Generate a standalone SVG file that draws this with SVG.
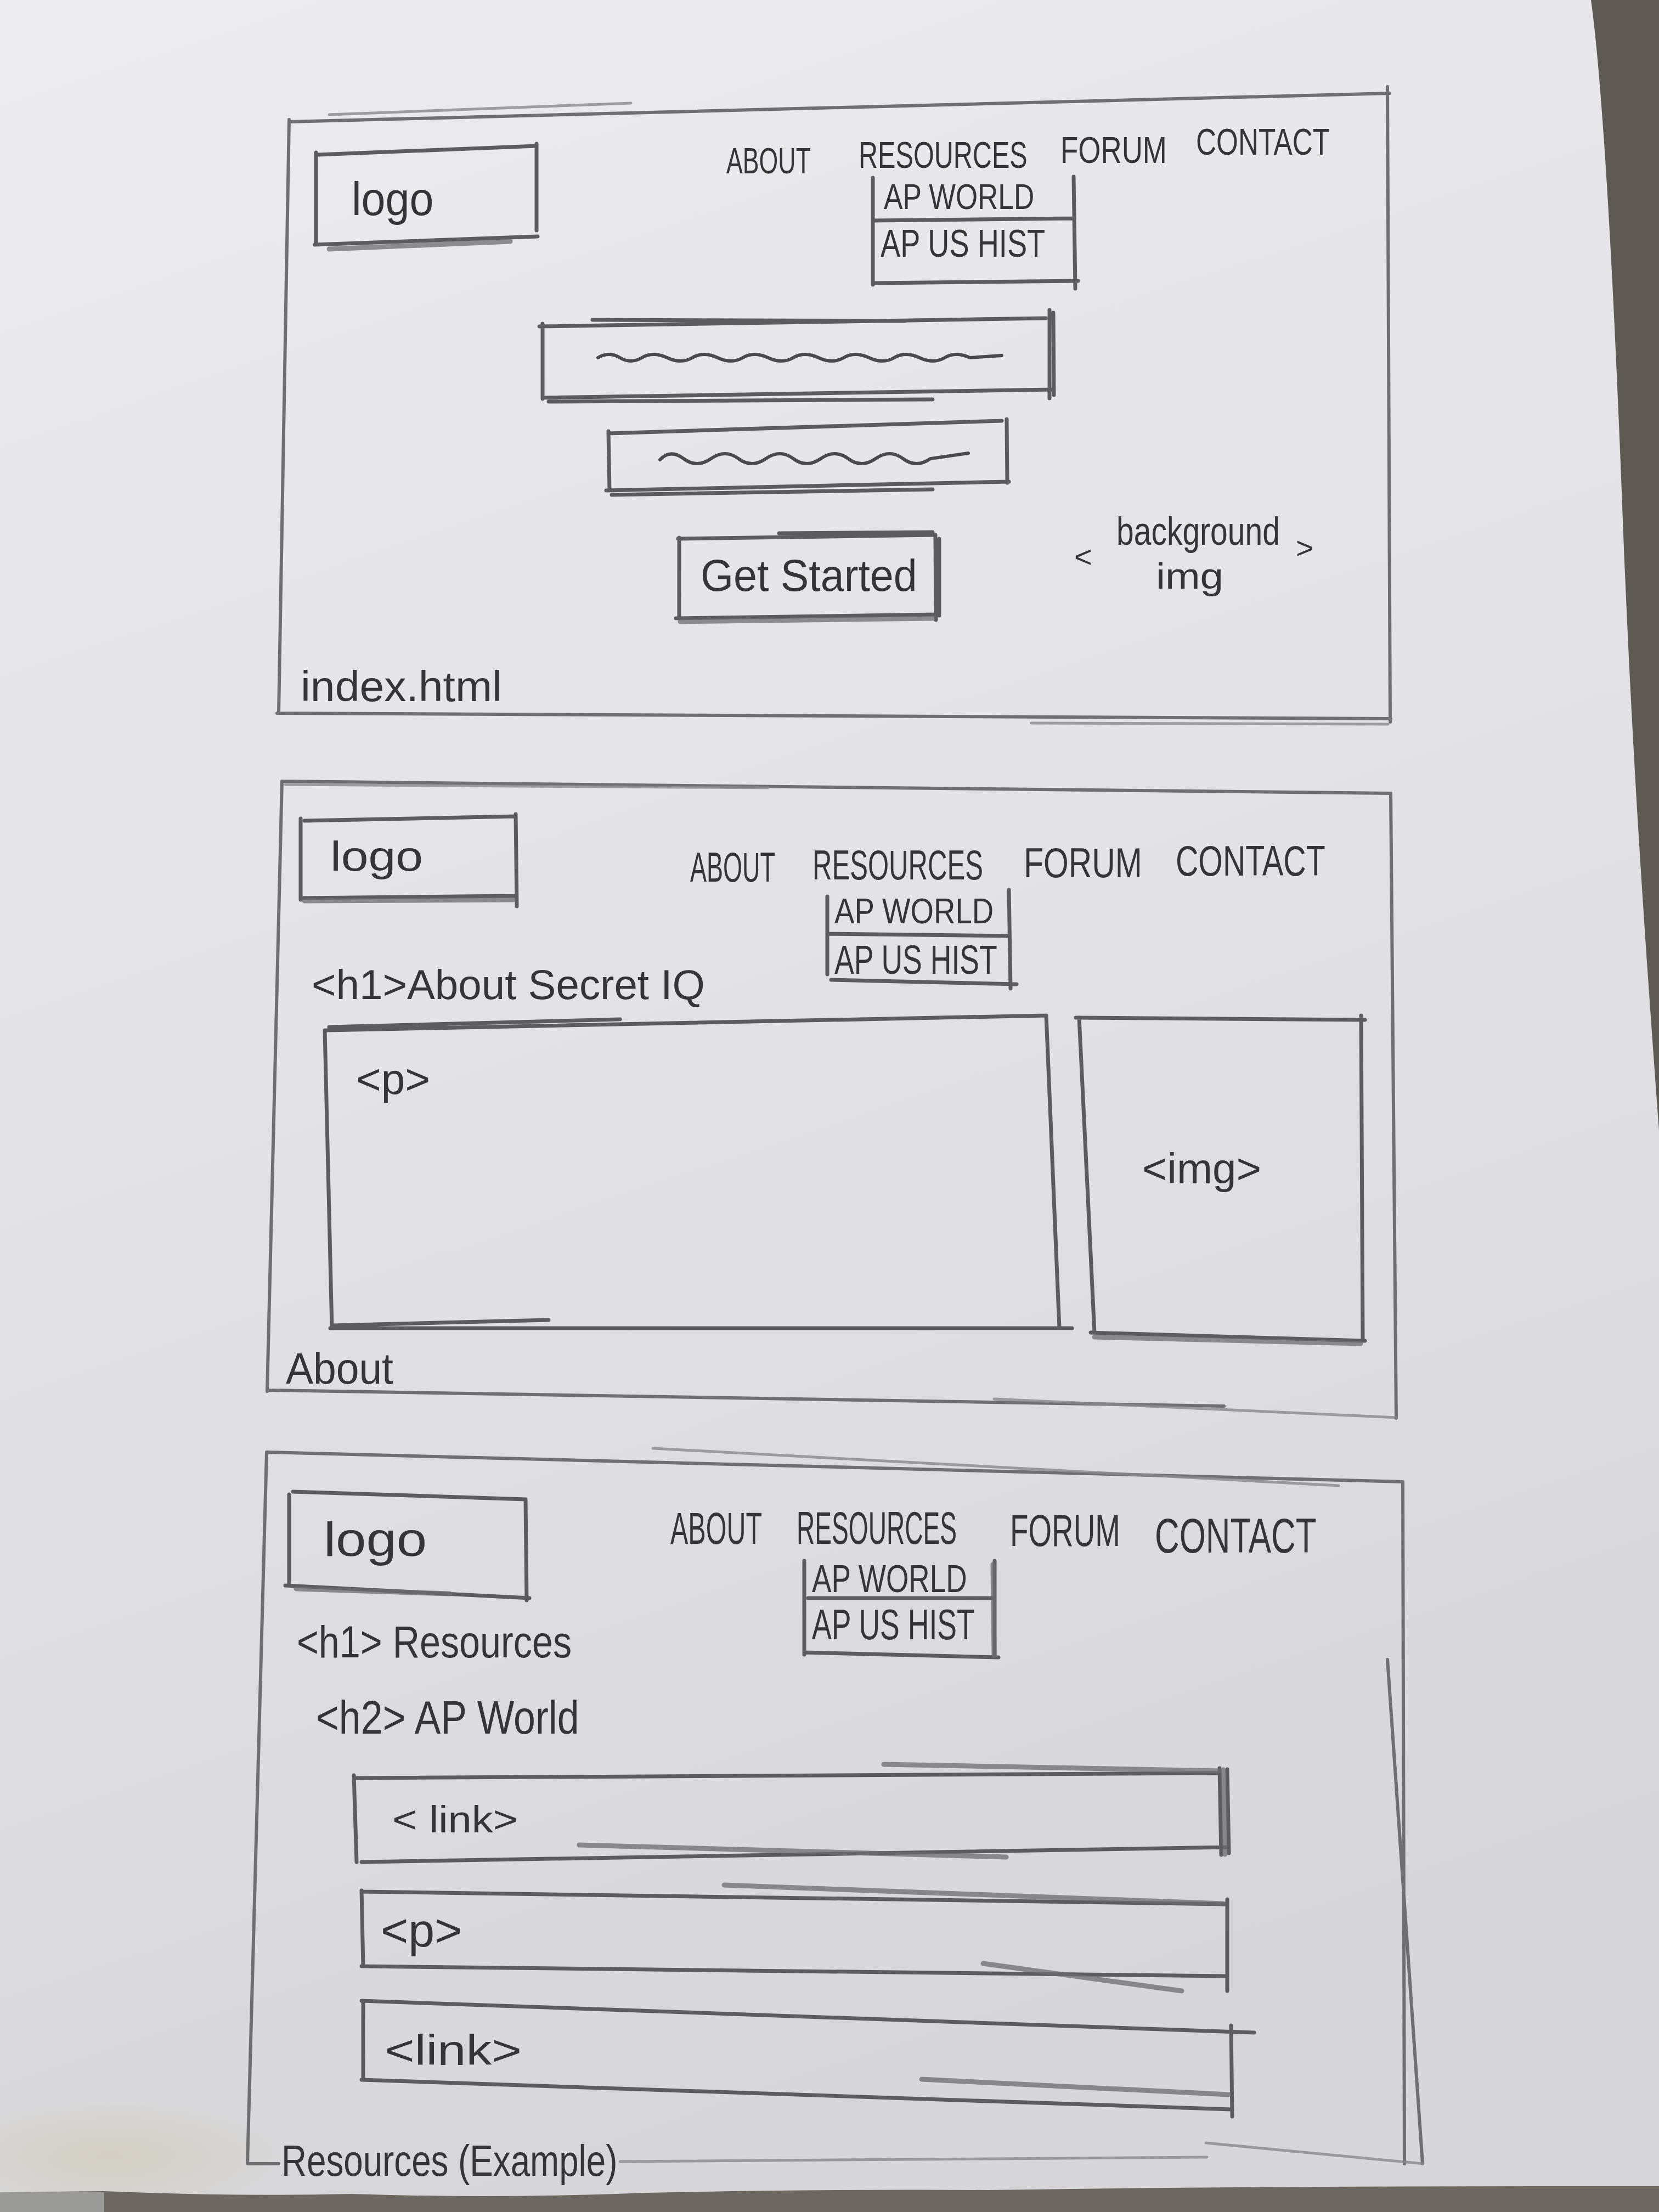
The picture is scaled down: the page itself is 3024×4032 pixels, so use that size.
<svg xmlns="http://www.w3.org/2000/svg" width="3024" height="4032" viewBox="0 0 3024 4032">
  <defs>
    <linearGradient id="paper" x1="0" y1="0" x2="0.25" y2="1">
      <stop offset="0" stop-color="#ececef"/>
      <stop offset="0.5" stop-color="#e3e3e7"/>
      <stop offset="1" stop-color="#d7d7da"/>
    </linearGradient>
    <radialGradient id="stain" cx="0.5" cy="0.5" r="0.5">
      <stop offset="0" stop-color="#c9bf9e" stop-opacity="0.4"/>
      <stop offset="1" stop-color="#c9bf9e" stop-opacity="0"/>
    </radialGradient>
    <style>
      .frame { fill: none; stroke: #6f6f72; stroke-width: 6; stroke-linecap: round; stroke-linejoin: round; }
      .faint { fill: none; stroke: #8a8a8d; stroke-width: 5; stroke-linecap: round; opacity: 0.8; }
      .box { fill: none; stroke: #5c5c5f; stroke-width: 7; stroke-linecap: round; stroke-linejoin: round; }
      .shade { fill: none; stroke: #6c6c6f; stroke-width: 9; stroke-linecap: round; opacity: 0.75; }
      .squig { fill: none; stroke: #4a4a4d; stroke-width: 6; stroke-linecap: round; }
      .hand { font-family: "Liberation Sans", "DejaVu Sans", sans-serif; fill: #353538; }
    </style>
  </defs>

  <!-- sheet of paper and the desk around it -->
  <rect x="0" y="0" width="3024" height="4032" fill="url(#paper)"/>
  <ellipse cx="200" cy="3930" rx="340" ry="110" fill="url(#stain)"/>
  <path d="M2900,0 C2925,180 2945,600 2960,1000 C2975,1350 2990,1600 3024,2060 L3024,0 Z" fill="#5e5a53"/>
  <path d="M0,3996 L190,3994 Q420,4004 640,3999 Q900,4008 1180,3997 Q1500,3990 1800,3992 Q2300,3984 3024,3985 L3024,4032 L0,4032 Z" fill="#6c6861"/>
  <rect x="0" y="3996" width="190" height="36" fill="#9a9a98"/>

  <!-- Handwritten labels: each text is sized to its width, then stretched
       vertically about its own baseline (matrix(1,0,0,k,0,y*(1-k))). -->

  <!-- ===== index.html page ===== -->
  <g id="page-index">
    <path class="frame" d="M527,222 L2533,170 M527,218 L508,1300 M505,1300 L2535,1310 M2529,158 L2534,1316"/>
    <path class="faint" d="M600,209 L1150,188 M1880,1318 L2530,1320"/>

    <g id="index-logo">
      <path class="box" d="M580,282 L978,266 M576,278 L576,446 M574,446 L980,431 M978,262 L978,420"/>
      <path class="shade" d="M600,454 L930,440"/>
      <text class="hand" x="641" y="392" font-size="79" transform="matrix(1,0,0,1.07,0,-27.4)">logo</text>
    </g>

    <g id="index-nav">
      <text class="hand" x="1324" y="316" font-size="44.7" transform="matrix(1,0,0,1.5,0,-158)">ABOUT</text>
      <text class="hand" x="1565" y="306" font-size="48.6" transform="matrix(1,0,0,1.4,0,-122.4)">RESOURCES</text>
      <text class="hand" x="1933" y="297" font-size="52.9" transform="matrix(1,0,0,1.3,0,-89.1)">FORUM</text>
      <text class="hand" x="2180" y="282" font-size="51.3" transform="matrix(1,0,0,1.35,0,-98.7)">CONTACT</text>
    </g>

    <g id="index-dropdown">
      <path class="box" d="M1591,324 L1591,519 M1957,322 L1960,526 M1593,402 L1957,398 M1595,516 L1965,512"/>
      <text class="hand" x="1611" y="381" font-size="51.6" transform="matrix(1,0,0,1.25,0,-95.25)">AP WORLD</text>
      <text class="hand" x="1605" y="468" font-size="54.2" transform="matrix(1,0,0,1.29,0,-135.7)">AP US HIST</text>
    </g>

    <g id="index-heading-field">
      <path class="box" d="M983,595 L1906,580 M1080,583 L1650,585 M989,590 L989,727 M989,725 L1919,710 M1000,732 L1700,728 M1913,565 L1913,726 M1920,570 L1921,720"/>
      <path class="squig" d="M1090,652 Q1110,640 1130,652 T1170,652 T1216,652 T1262,652 T1308,652 T1354,652 T1400,652 T1446,652 T1492,652 T1538,652 T1584,652 T1630,652 T1676,652 T1722,652 T1768,652 L1826,648"/>
    </g>

    <g id="index-subheading-field">
      <path class="box" d="M1109,790 L1826,767 M1109,786 L1111,894 M1105,894 L1839,878 M1115,902 L1700,892 M1835,764 L1836,880"/>
      <path class="squig" d="M1203,838 Q1222,818 1246,836 T1296,836 T1346,836 T1396,836 T1446,836 T1496,836 T1546,836 T1596,836 T1646,836 T1696,836 L1765,826"/>
    </g>

    <g id="index-get-started">
      <path class="box" d="M1236,982 L1705,975 M1420,972 L1700,970 M1238,980 L1238,1125 M1232,1127 L1708,1120 M1705,976 L1706,1130 M1712,982 L1712,1122"/>
      <path class="shade" d="M1240,1133 L1700,1127"/>
      <text class="hand" x="1277" y="1077" font-size="77.2" transform="matrix(1,0,0,1.05,0,-53.85)">Get Started</text>
    </g>

    <g id="index-background-img">
      <text class="hand" x="1958" y="1034" font-size="56">&lt;</text>
      <text class="hand" x="2035" y="993" font-size="57" transform="matrix(1,0,0,1.27,0,-268.1)">background</text>
      <text class="hand" x="2107" y="1073" font-size="76.4" transform="matrix(1,0,0,0.88,0,128.8)">img</text>
      <text class="hand" x="2362" y="1018" font-size="56">&gt;</text>
    </g>

    <text class="hand" x="548" y="1278" font-size="80.5" transform="matrix(1,0,0,0.96,0,51.1)">index.html</text>
  </g>

  <!-- ===== About page ===== -->
  <g id="page-about">
    <path class="frame" d="M514,1424 L2535,1446 M514,1424 L487,2536 M487,2534 L2231,2563 M2535,1446 L2545,2585"/>
    <path class="faint" d="M520,1430 L1400,1436 M1812,2550 L2545,2584"/>

    <g id="about-logo">
      <path class="box" d="M555,1496 L940,1488 M548,1492 L548,1640 M548,1637 L940,1633 M940,1484 L942,1652"/>
      <path class="shade" d="M555,1642 L935,1640"/>
      <text class="hand" x="602" y="1587" font-size="89.4" transform="matrix(1,0,0,0.84,0,253.9)">logo</text>
    </g>

    <g id="about-nav">
      <text class="hand" x="1258" y="1607" font-size="45" transform="matrix(1,0,0,1.68,0,-1092.8)">ABOUT</text>
      <text class="hand" x="1481" y="1603" font-size="49.1" transform="matrix(1,0,0,1.53,0,-849.6)">RESOURCES</text>
      <text class="hand" x="1866" y="1599" font-size="58.9" transform="matrix(1,0,0,1.28,0,-447.7)">FORUM</text>
      <text class="hand" x="2143" y="1596" font-size="57.3" transform="matrix(1,0,0,1.37,0,-590.5)">CONTACT</text>
    </g>

    <g id="about-dropdown">
      <path class="box" d="M1508,1634 L1508,1776 M1839,1622 L1842,1802 M1508,1702 L1839,1706 M1515,1786 L1853,1794"/>
      <text class="hand" x="1521" y="1683" font-size="54.6" transform="matrix(1,0,0,1.18,0,-302.9)">AP WORLD</text>
      <text class="hand" x="1521" y="1775" font-size="53.6" transform="matrix(1,0,0,1.4,0,-710)">AP US HIST</text>
    </g>

    <text id="about-h1" class="hand" x="568" y="1821" font-size="76.3">&lt;h1&gt;About Secret IQ</text>

    <g id="about-text">
      <path class="box" d="M595,1878 L1907,1851 M600,1872 L1130,1858 M592,1878 L605,2421 M602,2421 L1954,2421 M605,2416 L1000,2406 M1907,1851 L1931,2421"/>
      <text class="hand" x="649" y="1994" font-size="78.3">&lt;p&gt;</text>
    </g>

    <g id="about-image">
      <path class="box" d="M1961,1855 L2488,1859 M1967,1855 L1995,2429 M1988,2429 L2488,2444 M2481,1851 L2484,2444"/>
      <path class="shade" d="M1995,2437 L2480,2449"/>
      <text class="hand" x="2082" y="2157" font-size="78.1">&lt;img&gt;</text>
    </g>

    <text class="hand" x="521" y="2522" font-size="75" transform="matrix(1,0,0,1.07,0,-176.5)">About</text>
  </g>

  <!-- ===== Resources page ===== -->
  <g id="page-resources">
    <path class="frame" d="M486,2647 L2557,2701 M486,2647 L451,3944 M451,3944 L508,3944 M2557,2701 L2560,3944 M2529,3025 L2593,3944"/>
    <path class="faint" d="M1190,2640 L2440,2708 M2198,3906 L2594,3944 M1130,3940 L2200,3932"/>

    <g id="resources-logo">
      <path class="box" d="M534,2719 L958,2733 M527,2724 L527,2890 M520,2890 L965,2913 M958,2733 L960,2917"/>
      <path class="shade" d="M540,2896 L820,2905"/>
      <text class="hand" x="590" y="2836" font-size="99.5" transform="matrix(1,0,0,0.87,0,368.7)">logo</text>
    </g>

    <g id="resources-nav">
      <text class="hand" x="1222" y="2814" font-size="48.5" transform="matrix(1,0,0,1.7,0,-1969.8)">ABOUT</text>
      <text class="hand" x="1452" y="2814" font-size="46.1" transform="matrix(1,0,0,1.79,0,-2223.1)">RESOURCES</text>
      <text class="hand" x="1841" y="2818" font-size="54.8" transform="matrix(1,0,0,1.48,0,-1352.6)">FORUM</text>
      <text class="hand" x="2105" y="2830" font-size="61.9" transform="matrix(1,0,0,1.44,0,-1245.2)">CONTACT</text>
    </g>

    <g id="resources-dropdown">
      <path class="box" d="M1466,2845 L1466,3016 M1813,2845 L1813,3021 M1473,2913 L1813,2913 M1466,3012 L1820,3021"/>
      <path class="shade" d="M1810,2852 L1812,3018"/>
      <text class="hand" x="1480" y="2902" font-size="53.2" transform="matrix(1,0,0,1.31,0,-899.6)">AP WORLD</text>
      <text class="hand" x="1480" y="2988" font-size="53.6" transform="matrix(1,0,0,1.46,0,-1374.5)">AP US HIST</text>
    </g>

    <text id="resources-h1" class="hand" x="541" y="3021" font-size="68.3" transform="matrix(1,0,0,1.2,0,-604.2)">&lt;h1&gt; Resources</text>
    <text id="resources-h2" class="hand" x="576" y="3160" font-size="71.7" transform="matrix(1,0,0,1.2,0,-632)">&lt;h2&gt; AP World</text>

    <g id="resources-link-1">
      <path class="box" d="M645,3241 L2223,3232 M645,3236 L650,3394 M659,3394 L2237,3367 M2223,3223 L2226,3381 M2237,3225 L2240,3378"/>
      <path class="shade" d="M1611,3216 L2223,3228 M1056,3363 L1834,3385 M2230,3226 L2233,3380"/>
      <text class="hand" x="715" y="3340" font-size="77.7" transform="matrix(1,0,0,0.87,0,434.2)">&lt; link&gt;</text>
    </g>

    <g id="resources-paragraph">
      <path class="box" d="M659,3448 L2237,3471 M659,3446 L662,3584 M659,3584 L2237,3602 M2237,3462 L2237,3629"/>
      <path class="shade" d="M1320,3436 L2230,3470 M1792,3579 L2154,3629"/>
      <text class="hand" x="694" y="3548" font-size="86">&lt;p&gt;</text>
    </g>

    <g id="resources-link-2">
      <path class="box" d="M659,3647 L2286,3705 M662,3647 L662,3791 M659,3791 L2244,3845 M2244,3692 L2246,3858"/>
      <path class="shade" d="M1680,3790 L2240,3818"/>
      <text class="hand" x="701" y="3764" font-size="93.7" transform="matrix(1,0,0,0.84,0,602.2)">&lt;link&gt;</text>
    </g>

    <text class="hand" x="513" y="3966" font-size="63.7" transform="matrix(1,0,0,1.25,0,-991.5)">Resources (Example)</text>
  </g>
</svg>
